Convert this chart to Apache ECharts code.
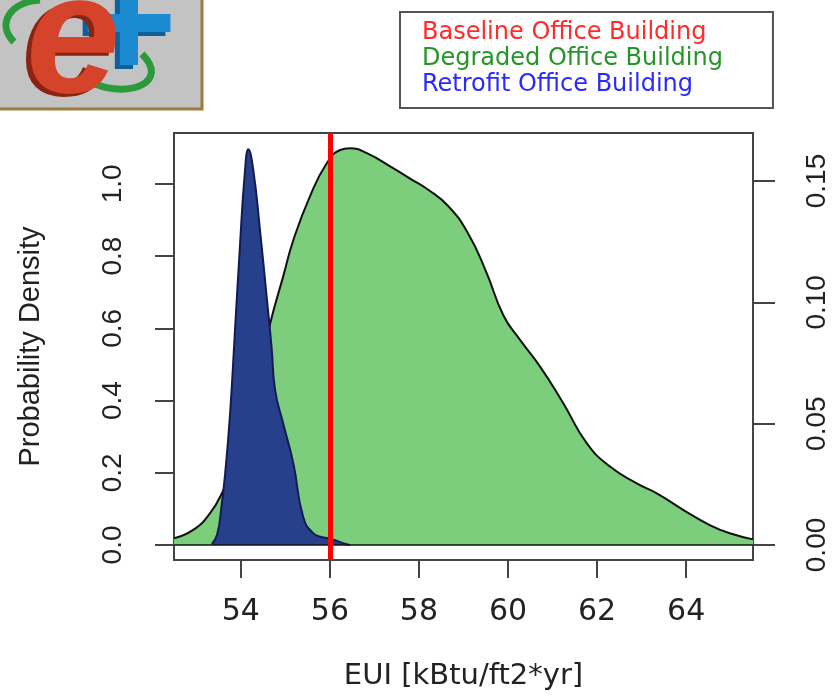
<!DOCTYPE html>
<html>
<head>
<meta charset="utf-8">
<script src="https://cdn.jsdelivr.net/npm/echarts@6.0.0/dist/echarts.min.js"></script>
<style>
  html, body { margin: 0; padding: 0; background: #fff; }
  #chart { width: 835px; height: 696px; }
</style>
</head>
<body>
<div id="chart"></div>
<script>
// values
const baselineEUI = 56.0;

const degradedEUI = [52.5, 52.93, 53.31, 53.61, 53.9, 54.2, 54.45, 54.66, 54.95, 55.18, 55.55, 55.93,
  56.23, 56.45, 56.83, 57.42, 57.8, 58.2, 58.65, 59.1, 59.5, 59.9, 60.27, 60.72, 61.24, 61.77,
  62.29, 62.89, 63.34, 63.94, 64.53, 64.98, 65.5];
const degradedDensity = [0.0028, 0.0062, 0.0131, 0.0227, 0.036, 0.055, 0.074, 0.0914, 0.1106, 0.1257,
  0.1436, 0.1573, 0.1628, 0.1635, 0.1615, 0.1553, 0.151, 0.1465, 0.1398, 0.1285, 0.113, 0.0945,
  0.0845, 0.0735, 0.0584, 0.0419, 0.0323, 0.0254, 0.0213, 0.0144, 0.0082, 0.0048, 0.0023];

const retrofitEUI = [53.35, 53.47, 53.56, 53.65, 53.76, 53.87, 53.98, 54.09, 54.17, 54.28, 54.43,
  54.58, 54.69, 54.77, 54.95, 55.18, 55.4, 55.63, 55.85, 56.0, 56.3, 56.45];
const retrofitDensity = [0.003, 0.03, 0.1, 0.2, 0.365, 0.596, 0.826, 1.03, 1.096, 1.039, 0.873,
  0.688, 0.549, 0.429, 0.337, 0.226, 0.078, 0.032, 0.021, 0.018, 0.005, 0];

const xTicks = [54, 56, 58, 60, 62, 64];
const leftTicks = [0, 0.2, 0.4, 0.6, 0.8, 1.0];
const rightTicks = [0, 0.05, 0.10, 0.15];

const legendNames = ['Baseline Office Building', 'Degraded Office Building', 'Retrofit Office Building'];

const zip = (xs, ys) => xs.map((x, i) => [x, ys[i]]);

const chart = echarts.init(document.getElementById('chart'));

const frameColor = '#444';
const tickFontLat = 'Liberation Sans';
const tickFontHor = 'DejaVu Sans';

const option = {
  animation: false,
  legend: {
    orient: 'vertical',
    left: 400,
    top: 12,
    padding: [9, 50, 11, 17],
    borderColor: '#555',
    borderWidth: 2,
    backgroundColor: '#fff',
    itemGap: 2,
    itemWidth: 0,
    itemHeight: 24,
    icon: 'none',
    selectedMode: false,
    textStyle: { fontFamily: tickFontHor, fontSize: 24 },
    data: [
      { name: legendNames[0], textStyle: { color: '#ff2a2a' } },
      { name: legendNames[1], textStyle: { color: '#25952a' } },
      { name: legendNames[2], textStyle: { color: '#2a2aff' } }
    ]
  },
  grid: {
    left: 174, right: 82, top: 133, bottom: 136,
    show: true, borderColor: frameColor, borderWidth: 2
  },
  xAxis: {
    type: 'value',
    min: 52.5, max: 65.5,
    axisLine: { show: false, onZero: false },
    splitLine: { show: false },
    axisTick: { show: true, length: 18, customValues: xTicks, lineStyle: { color: frameColor, width: 2 } },
    axisLabel: { customValues: xTicks, margin: 37, fontFamily: tickFontHor, fontSize: 30, color: '#222' },
    name: 'EUI [kBtu/ft2*yr]',
    nameLocation: 'middle',
    nameGap: 102,
    nameTextStyle: { fontFamily: tickFontHor, fontSize: 29, color: '#222' }
  },
  yAxis: [
    {
      type: 'value',
      position: 'left',
      min: -0.0416, max: 1.141,
      axisLine: { show: false },
      splitLine: { show: false },
      axisTick: { show: true, length: 19, customValues: leftTicks, lineStyle: { color: frameColor, width: 2 } },
      axisLabel: {
        customValues: leftTicks, rotate: 90, margin: 47,
        fontFamily: tickFontLat, fontSize: 28, color: '#222',
        formatter: v => v.toFixed(1)
      },
      name: 'Probability Density',
      nameLocation: 'middle',
      nameGap: 129,
      nameTextStyle: { fontFamily: tickFontLat, fontSize: 29, color: '#222' }
    },
    {
      type: 'value',
      position: 'right',
      min: -0.0062, max: 0.1698,
      axisLine: { show: false },
      splitLine: { show: false },
      axisTick: { show: true, length: 22, customValues: rightTicks, lineStyle: { color: frameColor, width: 2 } },
      axisLabel: {
        customValues: rightTicks, rotate: 90, margin: 50,
        fontFamily: tickFontLat, fontSize: 28, color: '#222',
        formatter: v => v.toFixed(2)
      }
    }
  ],
  series: [
    {
      name: legendNames[1],
      type: 'line',
      yAxisIndex: 1,
      data: zip(degradedEUI, degradedDensity),
      showSymbol: false,
      smooth: 0.5,
      color: '#7ccd7c',
      lineStyle: { color: '#111', width: 2 },
      areaStyle: { color: '#7ccd7c', opacity: 1 },
      markLine: {
        silent: true, symbol: 'none', label: { show: false },
        lineStyle: { color: '#111', width: 1.5, type: 'solid' },
        data: [{ yAxis: 0 }]
      },
      z: 2
    },
    {
      name: legendNames[2],
      type: 'line',
      yAxisIndex: 0,
      data: zip(retrofitEUI, retrofitDensity),
      showSymbol: false,
      smooth: 0.5,
      color: '#27408b',
      lineStyle: { color: '#141a55', width: 2 },
      areaStyle: { color: '#27408b', opacity: 1 },
      z: 3
    },
    {
      name: legendNames[0],
      type: 'line',
      yAxisIndex: 0,
      data: [[baselineEUI, 0]],
      symbol: 'none',
      color: '#ff0000',
      lineStyle: { width: 0 },
      markLine: {
        silent: true, symbol: 'none', label: { show: false },
        lineStyle: { color: '#ff0000', width: 5, type: 'solid' },
        data: [{ xAxis: baselineEUI }]
      },
      z: 5
    }
  ],
  // EnergyPlus-like logo in the top-left corner
  graphic: [
    { type: 'rect', z: 0, shape: { x: -4, y: -4, width: 206, height: 113 },
      style: { fill: '#c3c3c3', stroke: '#9c7c3c', lineWidth: 3 } },
    { type: 'bezierCurve', z: 1,
      shape: { x1: 40, y1: 0, cpx1: 10, cpy1: 2, cpx2: -4, cpy2: 24, x2: 14, y2: 42 },
      style: { stroke: '#2a9a3a', lineWidth: 7, fill: null } },
    { type: 'bezierCurve', z: 1,
      shape: { x1: 95, y1: 84, cpx1: 130, cpy1: 98, cpx2: 170, cpy2: 82, x2: 142, y2: 54 },
      style: { stroke: '#2a9a3a', lineWidth: 7, fill: null } },
    { type: 'text', z: 2,
      style: { x: 124, y: 36, text: '+', font: 'bold 165px "Liberation Sans"', fill: '#0e5f9a', align: 'center', verticalAlign: 'middle' } },
    { type: 'text', z: 3,
      style: { x: 129, y: 32, text: '+', font: 'bold 165px "Liberation Sans"', fill: '#1b8ad0', align: 'center', verticalAlign: 'middle' } },
    { type: 'text', z: 4,
      style: { x: 68, y: 48, text: 'e', font: 'italic bold 170px "Liberation Sans"', fill: '#8a2412', align: 'center', verticalAlign: 'middle' } },
    { type: 'text', z: 5,
      style: { x: 73, y: 45, text: 'e', font: 'italic bold 170px "Liberation Sans"', fill: '#d4432a', align: 'center', verticalAlign: 'middle' } }
  ]
};

chart.setOption(option);
</script>
</body>
</html>
